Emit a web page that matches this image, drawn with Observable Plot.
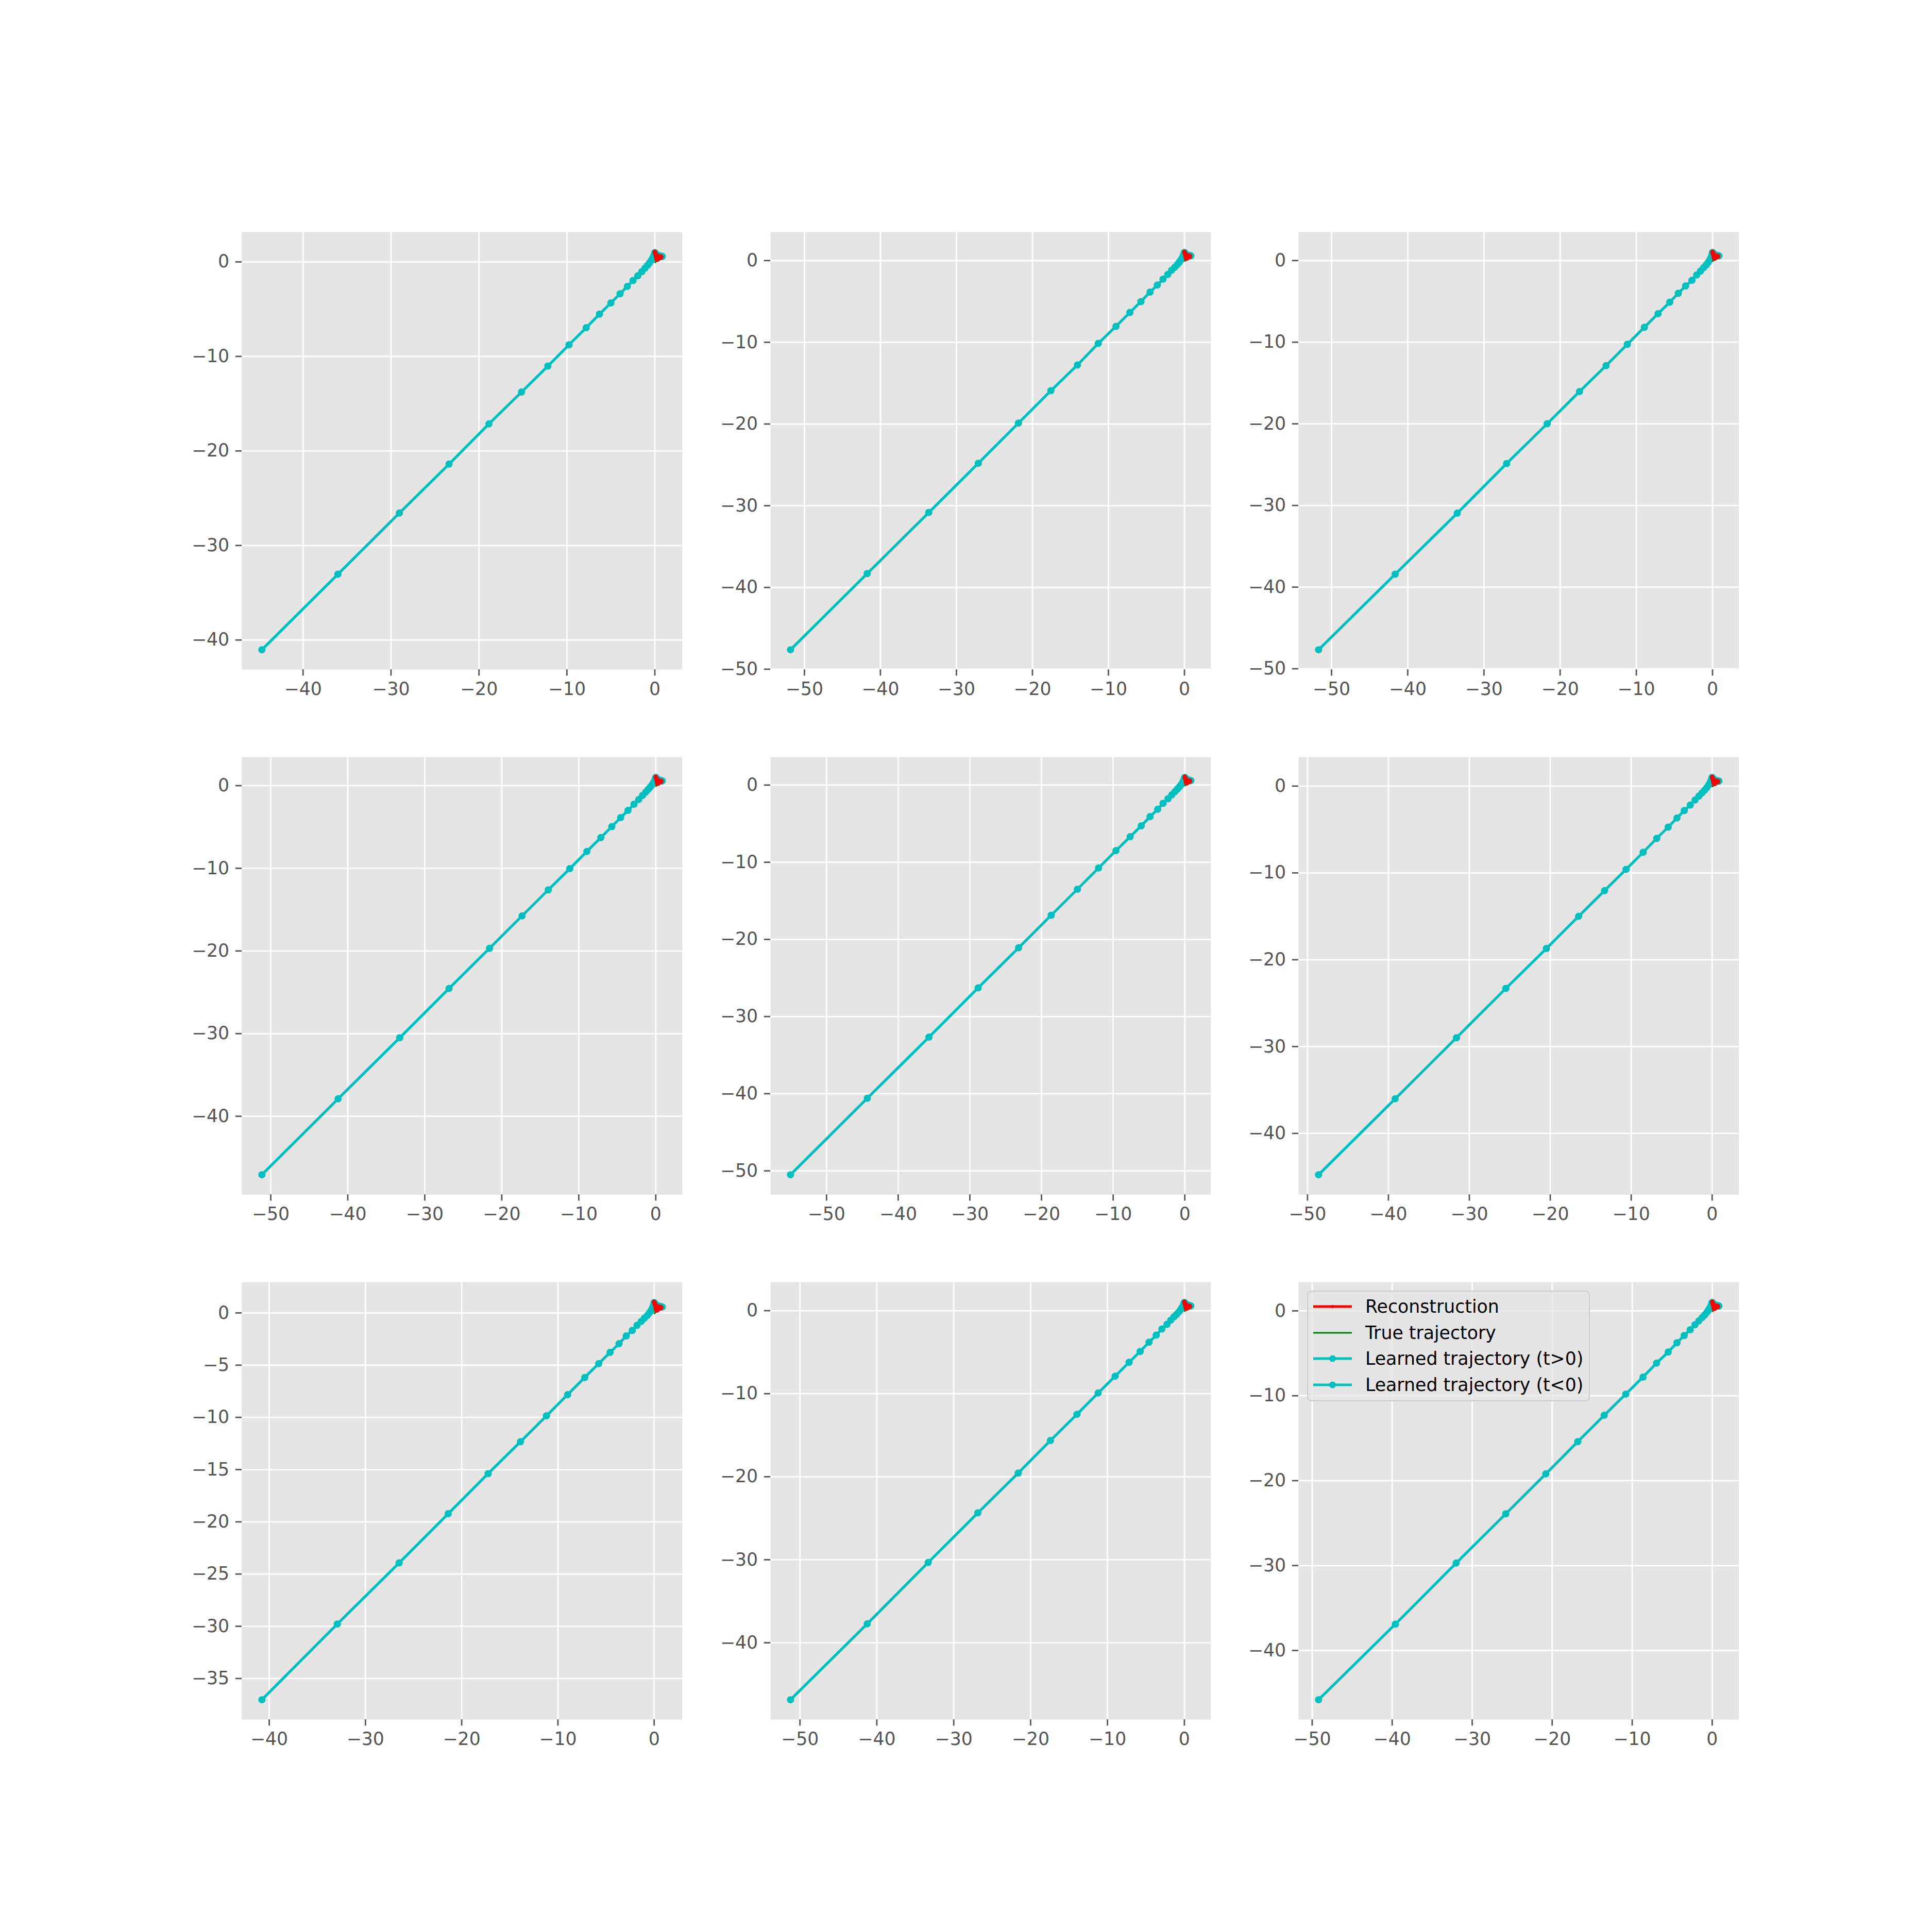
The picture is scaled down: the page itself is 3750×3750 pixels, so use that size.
<!DOCTYPE html>
<html><head><meta charset="utf-8">
<script src="https://cdn.jsdelivr.net/npm/d3@7"></script>
<script src="https://cdn.jsdelivr.net/npm/@observablehq/plot@0.6"></script>
<style>
body{margin:0;background:#fff}
#fig{position:relative;width:3750px;height:3750px;background:#fff;font-family:"DejaVu Sans";overflow:hidden}
.panel{position:absolute}
</style>
</head><body><div id="fig"></div>
<script>
// ---- Learned trajectory (t<0), one pair of arrays per panel ----
const negX1 = [-44.68,-36.04,-29.05,-23.40,-18.87,-15.16,-12.17,-9.76,-7.81,-6.30,-5.00,-3.96,-3.13,-2.48,-1.94,-1.48,-1.12,-0.84,-0.60,-0.41,-0.26,-0.14,-0.05,0.0];
const negY1 = [-41.03,-33.04,-26.57,-21.39,-17.14,-13.77,-11.02,-8.77,-6.96,-5.53,-4.34,-3.37,-2.59,-1.97,-1.47,-1.03,-0.66,-0.36,-0.10,0.15,0.38,0.60,0.80,0.98];
const negX2 = [-51.83,-41.74,-33.64,-27.12,-21.84,-17.57,-14.08,-11.34,-9.01,-7.18,-5.73,-4.53,-3.57,-2.82,-2.20,-1.70,-1.29,-0.96,-0.70,-0.49,-0.32,-0.18,-0.08,0.0];
const negY2 = [-47.62,-38.30,-30.83,-24.80,-19.89,-15.92,-12.78,-10.14,-8.05,-6.35,-5.02,-3.86,-3.00,-2.27,-1.70,-1.19,-0.83,-0.51,-0.22,0.05,0.30,0.55,0.78,0.98];
const negX3 = [-51.70,-41.65,-33.50,-27.02,-21.70,-17.46,-13.97,-11.18,-8.94,-7.15,-5.61,-4.49,-3.53,-2.70,-2.08,-1.58,-1.16,-0.83,-0.58,-0.39,-0.24,-0.12,-0.04,0.0];
const negY3 = [-47.67,-38.42,-30.94,-24.86,-19.99,-16.05,-12.87,-10.26,-8.17,-6.51,-5.10,-4.01,-3.11,-2.42,-1.77,-1.30,-0.87,-0.54,-0.24,0.04,0.30,0.55,0.78,0.98];
const negX4 = [-51.15,-41.26,-33.25,-26.85,-21.59,-17.36,-13.96,-11.17,-8.95,-7.14,-5.71,-4.56,-3.61,-2.83,-2.22,-1.72,-1.31,-0.99,-0.72,-0.50,-0.32,-0.18,-0.07,0.0];
const negY4 = [-47.07,-37.89,-30.50,-24.54,-19.68,-15.75,-12.61,-10.04,-7.96,-6.29,-4.96,-3.86,-3.00,-2.25,-1.68,-1.18,-0.79,-0.46,-0.18,0.08,0.33,0.56,0.78,0.98];
const negX5 = [-55.03,-44.31,-35.71,-28.84,-23.19,-18.65,-14.99,-12.04,-9.61,-7.63,-6.08,-4.85,-3.79,-3.04,-2.34,-1.81,-1.37,-1.01,-0.73,-0.51,-0.33,-0.19,-0.08,0.0];
const negY5 = [-50.50,-40.59,-32.67,-26.28,-21.08,-16.87,-13.50,-10.75,-8.49,-6.69,-5.28,-4.09,-3.14,-2.37,-1.76,-1.26,-0.84,-0.50,-0.21,0.06,0.31,0.55,0.78,0.98];
const negX6 = [-48.63,-39.17,-31.59,-25.49,-20.48,-16.50,-13.29,-10.63,-8.52,-6.84,-5.43,-4.34,-3.44,-2.70,-2.11,-1.64,-1.25,-0.94,-0.68,-0.47,-0.30,-0.17,-0.07,0.0];
const negY6 = [-44.76,-36.02,-28.98,-23.30,-18.71,-15.00,-12.04,-9.59,-7.62,-6.02,-4.73,-3.67,-2.82,-2.18,-1.60,-1.16,-0.78,-0.48,-0.20,0.07,0.32,0.56,0.78,0.98];
const negX7 = [-40.76,-32.92,-26.50,-21.40,-17.25,-13.89,-11.19,-8.99,-7.21,-5.76,-4.58,-3.65,-2.90,-2.27,-1.78,-1.35,-1.02,-0.72,-0.50,-0.33,-0.20,-0.10,-0.03,0.0];
const negY7 = [-37.03,-29.78,-23.93,-19.22,-15.38,-12.33,-9.85,-7.82,-6.18,-4.85,-3.78,-2.94,-2.20,-1.67,-1.19,-0.82,-0.51,-0.25,0.00,0.22,0.44,0.64,0.82,0.98];
const negX8 = [-51.23,-41.25,-33.32,-26.87,-21.61,-17.42,-13.97,-11.22,-9.00,-7.19,-5.75,-4.60,-3.66,-2.92,-2.26,-1.77,-1.36,-1.03,-0.75,-0.52,-0.34,-0.19,-0.08,0.0];
const negY8 = [-46.86,-37.72,-30.33,-24.36,-19.56,-15.64,-12.48,-9.92,-7.89,-6.22,-4.91,-3.80,-2.95,-2.20,-1.64,-1.14,-0.75,-0.46,-0.18,0.08,0.33,0.56,0.78,0.98];
const negX9 = [-49.2,-39.6,-32.0,-25.8,-20.8,-16.8,-13.5,-10.8,-8.65,-6.95,-5.5,-4.4,-3.5,-2.75,-2.15,-1.67,-1.27,-0.95,-0.69,-0.48,-0.31,-0.17,-0.07,0.0];
const negY9 = [-45.8,-36.9,-29.7,-23.9,-19.2,-15.4,-12.3,-9.8,-7.8,-6.15,-4.85,-3.75,-2.9,-2.22,-1.63,-1.18,-0.8,-0.49,-0.2,0.07,0.32,0.56,0.78,0.98];

// ---- Near-origin series (same look in every panel) ----
const posX   = [0.0,0.12,0.28,0.45,0.60,0.72,0.80,0.84];
const posY   = [0.98,0.85,0.74,0.67,0.62,0.60,0.58,0.58];
const reconX = [0.0,0.06,0.18,0.35,0.55,0.72,0.68,0.50,0.34,0.24,0.18,0.14,0.08,0.02];
const reconY = [1.05,0.88,0.72,0.62,0.58,0.55,0.46,0.40,0.28,0.24,0.40,0.62,0.84,1.00];
const trueX  = [0.0,0.08,0.20,0.40,0.60,0.50,0.30,0.15,0.05];
const trueY  = [0.98,0.75,0.60,0.55,0.52,0.40,0.25,0.08,-0.05];

// ---- Tick labels per panel ----
const xt1 = [-40,-30,-20,-10,0],      yt1 = [0,-10,-20,-30,-40];
const xt2 = [-50,-40,-30,-20,-10,0],  yt2 = [0,-10,-20,-30,-40,-50];
const xt3 = [-50,-40,-30,-20,-10,0],  yt3 = [0,-10,-20,-30,-40,-50];
const xt4 = [-50,-40,-30,-20,-10,0],  yt4 = [0,-10,-20,-30,-40];
const xt5 = [-50,-40,-30,-20,-10,0],  yt5 = [0,-10,-20,-30,-40,-50];
const xt6 = [-50,-40,-30,-20,-10,0],  yt6 = [0,-10,-20,-30,-40];
const xt7 = [-40,-30,-20,-10,0],      yt7 = [0,-5,-10,-15,-20,-25,-30,-35];
const xt8 = [-50,-40,-30,-20,-10,0],  yt8 = [0,-10,-20,-30,-40];
const xt9 = [-50,-40,-30,-20,-10,0],  yt9 = [0,-10,-20,-30,-40];

const legendLabels = ["Reconstruction","True trajectory","Learned trajectory (t>0)","Learned trajectory (t<0)"];

const CYAN = "#00BFBF", RED = "#FF0000", GREEN = "#008000";
const FS = 34.72;       // 10pt at 250 dpi
const PT = 250 / 72;    // px per point

// layout (matplotlib default subplot params on a 3750px figure)
const W = 854.78, H = 849.26;
const colLeft = [468.75, 1494.53, 2520.22];
const rowTop = [450, 1469.12, 2488.24];
const ML = 180, MR = 30, MT = 30, MB = 110;

const zip = (xs, ys) => xs.map((x, k) => ({x, y: ys[k]}));

function panel(negX, negY, xt, yt) {
  const neg = zip(negX, negY), pos = zip(posX, posY), rec = zip(reconX, reconY), tru = zip(trueX, trueY);
  const xs = [...negX, ...posX, ...reconX, ...trueX];
  const ys = [...negY, ...posY, ...reconY, ...trueY];
  const [x0, x1] = d3.extent(xs), [y0, y1] = d3.extent(ys);
  const px = 0.05 * (x1 - x0), py = 0.05 * (y1 - y0);
  return Plot.plot({
    width: W + ML + MR, height: H + MT + MB,
    marginLeft: ML, marginRight: MR, marginTop: MT, marginBottom: MB,
    x: {domain: [x0 - px, x1 + px]},
    y: {domain: [y0 - py, y1 + py]},
    style: {fontFamily: "DejaVu Sans", fontSize: FS + "px", color: "#555555", background: "transparent", overflow: "visible"},
    marks: [
      Plot.frame({fill: "#E5E5E5", stroke: "none"}),
      Plot.gridX(xt, {stroke: "#ffffff", strokeOpacity: 1, strokeWidth: 0.8 * PT}),
      Plot.gridY(yt, {stroke: "#ffffff", strokeOpacity: 1, strokeWidth: 0.8 * PT}),
      Plot.axisX(xt, {tickSize: 3.5 * PT, tickPadding: 3.5 * PT, strokeWidth: 0.8 * PT, label: null, fontSize: FS}),
      Plot.axisY(yt, {tickSize: 3.5 * PT, tickPadding: 3.5 * PT, strokeWidth: 0.8 * PT, label: null, fontSize: FS}),
      Plot.line(neg, {x: "x", y: "y", stroke: CYAN, strokeWidth: 1.5 * PT}),
      Plot.dot(neg, {x: "x", y: "y", r: 7, fill: CYAN}),
      Plot.line(pos, {x: "x", y: "y", stroke: CYAN, strokeWidth: 1.5 * PT}),
      Plot.dot(pos, {x: "x", y: "y", r: 7, fill: CYAN}),
      Plot.line(tru, {x: "x", y: "y", stroke: GREEN, strokeWidth: 0.9 * PT}),
      Plot.line(rec, {x: "x", y: "y", stroke: RED, strokeWidth: 1.5 * PT, strokeLinejoin: "round"}),
      Plot.dot(rec, {x: "x", y: "y", r: 4.5, fill: RED})
    ]
  });
}

const panels = [
  [negX1, negY1, xt1, yt1], [negX2, negY2, xt2, yt2], [negX3, negY3, xt3, yt3],
  [negX4, negY4, xt4, yt4], [negX5, negY5, xt5, yt5], [negX6, negY6, xt6, yt6],
  [negX7, negY7, xt7, yt7], [negX8, negY8, xt8, yt8], [negX9, negY9, xt9, yt9]
];
const fig = document.getElementById("fig");
panels.forEach((p, i) => {
  const el = panel(...p);
  el.classList.add("panel");
  el.style.left = (colLeft[i % 3] - ML) + "px";
  el.style.top = (rowTop[Math.floor(i / 3)] - MT) + "px";
  fig.appendChild(el);
});

// legend in the last panel (upper left)
const ns = "http://www.w3.org/2000/svg";
const lg = document.createElementNS(ns, "svg");
const LW = 549, LH = 215;
lg.setAttribute("width", LW); lg.setAttribute("height", LH);
lg.style.position = "absolute";
lg.style.left = "2537px"; lg.style.top = "2505px";
function add(tag, attrs, parent) {
  const e = document.createElementNS(ns, tag);
  for (const k in attrs) e.setAttribute(k, attrs[k]);
  (parent || lg).appendChild(e);
  return e;
}
add("rect", {x: 1, y: 1, width: LW - 2, height: LH - 2, rx: 7, ry: 7, fill: "#E5E5E5", "fill-opacity": 0.8, stroke: "#CCCCCC", "stroke-width": 2});
const rowsY = [31, 82, 132, 183];
const styles = [
  {stroke: RED, w: 1.5 * PT, dot: 3},
  {stroke: GREEN, w: 0.9 * PT, dot: 0},
  {stroke: CYAN, w: 1.5 * PT, dot: 6.5},
  {stroke: CYAN, w: 1.5 * PT, dot: 6.5}
];
legendLabels.forEach((t, k) => {
  const s = styles[k], y = rowsY[k];
  add("line", {x1: 12, x2: 87, y1: y, y2: y, stroke: s.stroke, "stroke-width": s.w});
  if (s.dot) add("circle", {cx: 49.5, cy: y, r: s.dot, fill: s.stroke});
  const tx = add("text", {x: 113, y: y, "font-family": "DejaVu Sans", "font-size": FS, fill: "#000", "dominant-baseline": "central"});
  tx.textContent = t;
});
fig.appendChild(lg);
</script>
</body></html>
